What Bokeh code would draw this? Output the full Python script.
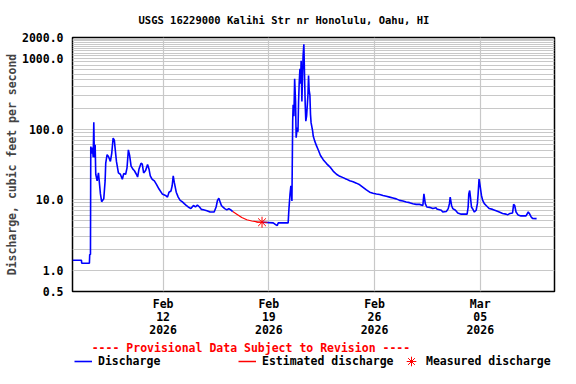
import pandas as pd
from bokeh.plotting import figure
from bokeh.layouts import column
from bokeh.models import (FixedTicker, NumeralTickFormatter, DatetimeTickFormatter,
                          Legend, LegendItem, Range1d, Title)
from bokeh.embed import file_html
from bokeh.resources import INLINE

TITLE = "USGS 16229000 Kalihi Str nr Honolulu, Oahu, HI"
Y_LABEL = "Discharge, cubic feet per second"
NOTE = "---- Provisional Data Subject to Revision ----"
LEGEND_LABELS = ["Discharge", "Estimated discharge", "Measured discharge"]
START = "2026-02-06T00:00"
END = "2026-03-09T22:00"
X_TICKS = ["2026-02-12", "2026-02-19", "2026-02-26", "2026-03-05"]
Y_TICKS = [0.5, 1, 10, 100, 1000, 2000]
Y_MINOR = ([2, 3, 4, 5, 6, 7, 8, 9] + [20, 30, 40, 50, 60, 70, 80, 90]
           + [200, 300, 400, 500, 600, 700, 800, 900]
           + [1100, 1200, 1300, 1400, 1500, 1600, 1700, 1800, 1900])

# days since 2026-02-06 00:00, discharge in cfs
days_a = [0.00, 0.59, 0.61, 1.12, 1.14, 1.19, 1.21, 1.27, 1.32, 1.37,
          1.41, 1.45, 1.50, 1.54, 1.63, 1.72, 1.85, 1.93, 2.07, 2.16,
          2.20, 2.29, 2.38, 2.51, 2.60, 2.69, 2.77, 2.82, 2.91, 3.04,
          3.17, 3.30, 3.39, 3.52, 3.61, 3.70, 3.78, 3.88, 4.01, 4.09,
          4.23, 4.31, 4.40, 4.54, 4.62, 4.71, 4.84, 4.97, 5.07, 5.15,
          5.28, 5.42, 5.55, 5.73, 5.94, 6.16, 6.29, 6.39, 6.52, 6.60,
          6.67, 6.74, 6.87, 7.00, 7.13, 7.26, 7.40, 7.53, 7.66, 7.84,
          8.01, 8.14, 8.27, 8.41, 8.54, 8.67, 8.90, 9.11, 9.38, 9.51,
          9.60, 9.69, 9.77, 9.86, 9.95, 10.08, 10.22, 10.35, 10.48, 10.61]
cfs_a = [1.39, 1.39, 1.26, 1.26, 1.67, 1.67, 56.8, 45, 55, 40,
         126, 39.6, 60, 23, 18.5, 24, 12.1, 9.4, 10.3, 18.5,
         33, 43.5, 41, 35, 46, 75, 70, 54, 35, 24,
         23, 19.5, 23.5, 23, 28.4, 51, 43, 30, 27, 26,
         23, 21, 27, 33, 32, 24, 26, 31.6, 27, 21.8,
         19.5, 18.5, 16.7, 14.2, 12.1, 11.5, 10.9, 12.8, 13.3, 15.8,
         21.8, 17.6, 12.8, 10.9, 9.8, 9.4, 8.8, 8.3, 7.9, 7.5,
         8.3, 7.9, 8.4, 7.9, 7.3, 7.2, 7.0, 6.7, 6.7, 7.9,
         9.8, 10.5, 9.4, 8.3, 7.9, 7.5, 7.2, 7.5, 7.2, 6.8]

days_est = [10.61, 10.88, 11.21, 11.54, 11.87, 12.24, 12.55]
cfs_est = [6.8, 6.25, 5.6, 5.2, 5.0, 4.85, 4.8]

days_meas = [12.55]
cfs_meas = [4.8]

days_b = [12.55, 13.29, 13.47, 13.56, 13.62, 14.07, 14.28, 14.33, 14.40, 14.46,
          14.53, 14.58, 14.61, 14.66, 14.71, 14.77, 14.81, 14.88, 14.93, 14.97,
          15.01, 15.06, 15.10, 15.14, 15.19, 15.24, 15.27, 15.32, 15.37, 15.41,
          15.45, 15.50, 15.59, 15.63, 15.67, 15.72, 15.76, 15.80, 15.90, 15.94,
          16.03, 16.16, 16.29, 16.42, 16.60, 16.82, 17.04, 17.26, 17.48, 17.70,
          17.92, 18.14, 18.36, 18.58, 18.80, 19.02, 19.24, 19.46, 19.68, 19.90,
          20.12, 20.34, 20.56, 20.78, 21.00, 21.22, 21.44, 21.66, 21.88, 22.10,
          22.32, 22.54, 22.76, 22.98, 23.20, 23.27, 23.36, 23.46, 23.64, 23.86,
          24.08, 24.12, 24.42, 24.52, 24.75, 24.88, 24.96, 25.01, 25.10, 25.18,
          25.36, 25.51, 25.74, 25.95, 26.13, 26.20, 26.24, 26.30, 26.35, 26.42,
          26.50, 26.61, 26.73, 26.81, 26.86, 26.92, 26.99, 27.08, 27.16, 27.27,
          27.39, 27.49, 27.60, 27.82, 28.05, 28.26, 28.48, 28.71, 28.81, 28.97,
          29.14, 29.21, 29.28, 29.37, 29.50, 29.70, 30.03, 30.18, 30.25, 30.36,
          30.46, 30.73]
cfs_b = [4.8, 4.7, 4.4, 4.3, 4.7, 4.7, 4.7, 7.3, 11.8, 15.8,
         9.6, 130, 222, 153, 520, 248, 76, 106, 92, 248,
         443, 720, 443, 935, 248, 640, 1100, 1600, 520, 222,
         130, 153, 305, 580, 360, 305, 162, 123, 95, 80,
         69, 58, 50, 42.5, 37, 32.6, 29.3, 25.5, 23, 21.5,
         20.6, 19.6, 18.6, 18, 17.2, 16.3, 15, 13.8, 12.8, 12.4,
         12.1, 11.9, 11.5, 11.2, 10.9, 10.6, 10.3, 9.8, 9.6, 9.3,
         9.1, 8.8, 8.6, 8.6, 8.3, 12.1, 8.8, 7.9, 7.8, 7.5,
         7.7, 7.4, 7.1, 6.7, 6.8, 7.5, 8.8, 10.9, 8.3, 7.5,
         7.1, 6.5, 6.25, 6.25, 6.25, 7.9, 12.1, 13.5, 10.9, 7.9,
         7.4, 6.7, 7.1, 8.8, 12.1, 19.6, 15.8, 11.5, 9.8, 8.8,
         8.3, 7.9, 7.5, 7.3, 7.0, 6.7, 6.4, 6.25, 6.1, 6.4,
         6.5, 8.6, 8.3, 6.7, 6.1, 5.9, 5.9, 6.7, 6.4, 5.75,
         5.45, 5.4]

FONT = "DejaVu Sans Mono"
BLUE = "#0000ff"
RED = "#ff0000"
t0 = pd.Timestamp(START)


def to_time(days):
    return t0 + pd.to_timedelta(days, unit="D")


p = figure(x_axis_type="datetime", y_axis_type="log",
           x_range=Range1d(t0, pd.Timestamp(END)), y_range=Range1d(0.5, 2000),
           width=560, height=340,
           min_border_left=72, min_border_right=6, min_border_top=37, min_border_bottom=44,
           output_backend="svg", toolbar_location=None)
p.background_fill_color = "white"
p.border_fill_color = "white"
p.outline_line_color = "black"
p.outline_line_width = 1.5

p.add_layout(Title(text=TITLE, align="left", offset=66, vertical_align="middle",
                   standoff=21, text_font=FONT, text_font_style="bold",
                   text_font_size="10.5px", text_color="black"), "above")

# y axis
p.yaxis.ticker = FixedTicker(ticks=Y_TICKS, minor_ticks=Y_MINOR)
p.yaxis.formatter = NumeralTickFormatter(format="0.0")
p.yaxis.axis_label = Y_LABEL
p.yaxis.axis_label_text_font = FONT
p.yaxis.axis_label_text_font_style = "bold"
p.yaxis.axis_label_text_font_size = "11.5px"
p.yaxis.axis_label_standoff = 0
p.yaxis.major_label_standoff = 9

# x axis
x_ticks_ms = [pd.Timestamp(d).value / 1e6 for d in X_TICKS]
p.xaxis.ticker = FixedTicker(ticks=x_ticks_ms)
fmt = "%b\n%d\n%Y"
p.xaxis.formatter = DatetimeTickFormatter(
    milliseconds=fmt, seconds=fmt, minsec=fmt, minutes=fmt, hourmin=fmt,
    hours=fmt, days=fmt, months=fmt, years=fmt)
p.xaxis.major_label_text_line_height = 0.95
p.xaxis.major_label_standoff = 5

for ax in (p.xaxis, p.yaxis):
    ax.axis_line_color = None
    ax.major_tick_line_color = None
    ax.minor_tick_line_color = None
    ax.major_tick_out = 0
    ax.major_tick_in = 0
    ax.minor_tick_out = 0
    ax.minor_tick_in = 0
    ax.major_label_text_font = FONT
    ax.major_label_text_font_style = "bold"
    ax.major_label_text_font_size = "11.5px"
    ax.major_label_text_color = "black"

p.xgrid.grid_line_color = "#c8c8c8"
p.xgrid.grid_line_width = 1.2
p.ygrid.grid_line_color = "#c8c8c8"
p.ygrid.grid_line_width = 1.2
p.ygrid.minor_grid_line_color = "#c8c8c8"
p.ygrid.minor_grid_line_width = 1.2

p.line(to_time(days_a), cfs_a, line_color=BLUE, line_width=1.6)
p.line(to_time(days_b), cfs_b, line_color=BLUE, line_width=1.6)
p.line(to_time(days_est), cfs_est, line_color=RED, line_width=1.2)
p.scatter(to_time(days_meas), cfs_meas, marker="asterisk", size=11,
          line_color=RED, line_width=1)

# strip under the chart: provisional note and key. Its range excludes the data,
# so these renderers only supply the key's styling.
leg = figure(width=560, height=28, x_range=Range1d(0, 1), y_range=Range1d(0, 1),
             min_border_left=0, min_border_right=0, min_border_top=0, min_border_bottom=0,
             x_axis_location=None, y_axis_location=None,
             output_backend="svg", toolbar_location=None)
leg.outline_line_color = None
leg.grid.visible = False
leg.background_fill_color = "white"
leg.border_fill_color = "white"
k_a = leg.line(to_time(days_a), cfs_a, line_color=BLUE, line_width=1.6)
k_e = leg.line(to_time(days_est), cfs_est, line_color=RED, line_width=1.5)
k_m = leg.scatter(to_time(days_meas), cfs_meas, marker="asterisk",
                  line_color=RED, line_width=1)
k_n = leg.line(to_time(days_est), cfs_est, line_alpha=0)

STYLE = dict(orientation="horizontal", padding=0, margin=0, border_line_alpha=0,
             background_fill_alpha=0, label_text_font=FONT,
             label_text_font_style="bold", label_text_font_size="11.5px")

note = Legend(items=[LegendItem(label=NOTE, renderers=[k_n])], location=(19.7, 13.3),
              glyph_width=0, glyph_height=10, label_height=10, label_standoff=0,
              label_text_color=RED, **STYLE)
leg.add_layout(note, "center")

key = Legend(items=[LegendItem(label=LEGEND_LABELS[0], renderers=[k_a]),
                    LegendItem(label=LEGEND_LABELS[1], renderers=[k_e])],
             location=(2, 0), glyph_width=18, glyph_height=10, label_height=10,
             label_width=130, label_standoff=6, spacing=10,
             label_text_color="black", **STYLE)
leg.add_layout(key, "center")

key_m = Legend(items=[LegendItem(label=LEGEND_LABELS[2], renderers=[k_m])],
               location=(327, -5.3), glyph_width=24, glyph_height=24, label_height=10,
               label_standoff=3, label_text_color="black", **STYLE)
leg.add_layout(key_m, "center")

layout = column(p, leg, spacing=0)
open("out.html", "w").write(file_html(layout, INLINE))
